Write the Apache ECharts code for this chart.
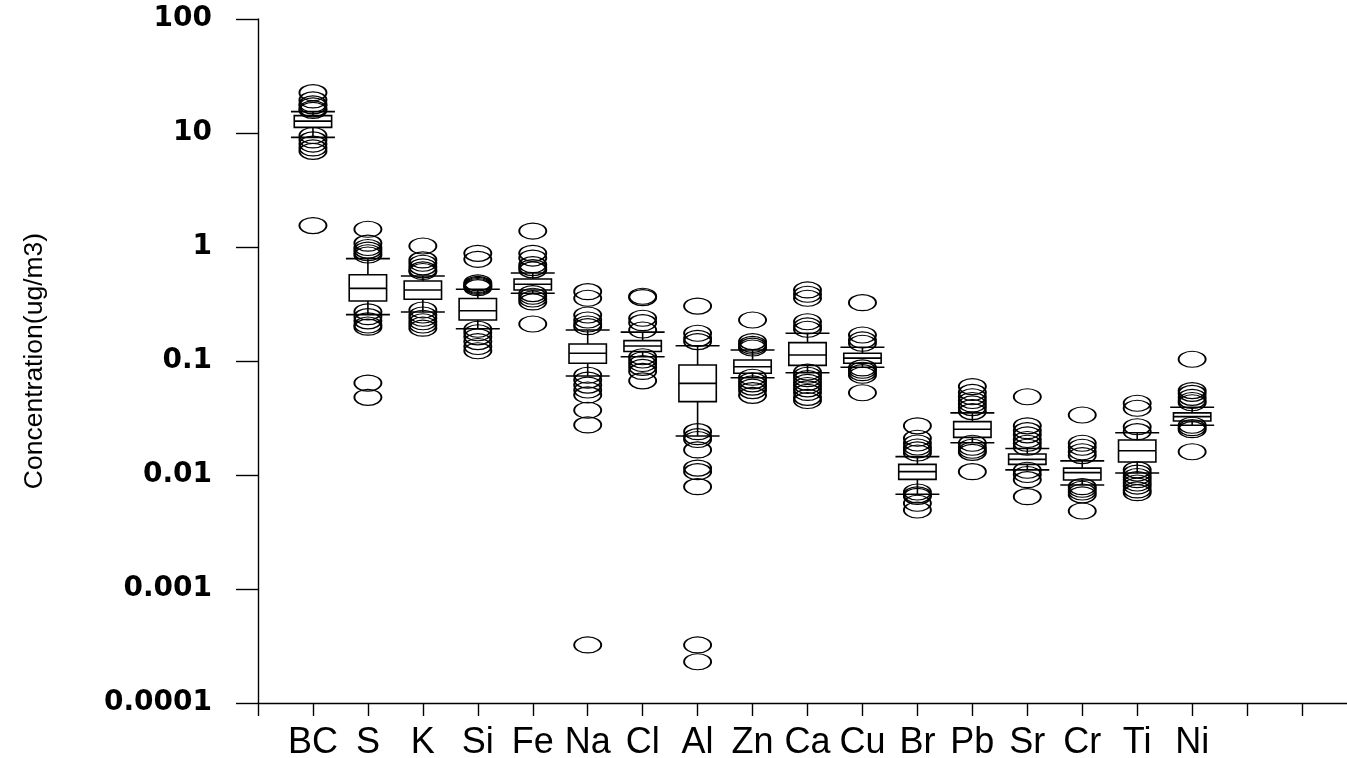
<!DOCTYPE html>
<html>
<head>
<meta charset="utf-8">
<script src="https://cdn.jsdelivr.net/npm/echarts@6/dist/echarts.min.js"></script>
<style>
html,body{margin:0;padding:0;background:#fff;}
#chart{width:1347px;height:758px;}
</style>
</head>
<body>
<div id="chart"></div>
<script>
// ---- data ----
const categories = ['BC','S','K','Si','Fe','Na','Cl','Al','Zn','Ca','Cu','Br','Pb','Sr','Cr','Ti','Ni'];
const yTickLabels = ['0.0001','0.001','0.01','0.1','1','10','100'];
const yAxisTitle = 'Concentration(ug/m3)';

const p10    = [9.16, 0.255, 0.269, 0.192, 0.393, 0.0738, 0.109, 0.022, 0.0714, 0.0789, 0.0881, 0.00677, 0.0192, 0.0111, 0.00817, 0.0104, 0.0273];
const q1     = [11.2, 0.336, 0.348, 0.229, 0.420, 0.0955, 0.121, 0.044, 0.078, 0.0916, 0.0955, 0.00916, 0.0214, 0.0124, 0.00904, 0.0130, 0.0298];
const median = [12.7, 0.434, 0.420, 0.276, 0.471, 0.117, 0.1355, 0.0637, 0.089, 0.113, 0.106, 0.0107, 0.0252, 0.0137, 0.0105, 0.0163, 0.0325];
const q3     = [14.2, 0.571, 0.503, 0.353, 0.524, 0.141, 0.151, 0.0922, 0.102, 0.145, 0.117, 0.0124, 0.0294, 0.0153, 0.0115, 0.0203, 0.0351];
const p90    = [15.4, 0.79, 0.557, 0.426, 0.592, 0.187, 0.179, 0.136, 0.125, 0.175, 0.132, 0.0145, 0.0351, 0.0171, 0.0133, 0.0235, 0.0393];

const outliers = [
  [22.6, 19.5, 18.0, 17.3, 16.3, 15.8, 9.5, 8.7, 8.0, 7.4, 6.9, 1.54],
  [1.43, 1.08, 0.99, 0.94, 0.89, 0.85, 0.27, 0.245, 0.225, 0.207, 0.198, 0.064, 0.048],
  [1.02, 0.77, 0.72, 0.67, 0.63, 0.61, 0.28, 0.253, 0.237, 0.221, 0.207, 0.194],
  [0.88, 0.78, 0.485, 0.47, 0.46, 0.45, 0.44, 0.19, 0.177, 0.163, 0.148, 0.134, 0.123],
  [1.38, 0.88, 0.80, 0.70, 0.66, 0.63, 0.39, 0.37, 0.35, 0.33, 0.211],
  [0.406, 0.355, 0.253, 0.229, 0.211, 0.2, 0.075, 0.068, 0.0615, 0.0557, 0.0504, 0.037, 0.0275, 0.000323],
  [0.37, 0.36, 0.237, 0.217, 0.187, 0.109, 0.102, 0.095, 0.088, 0.081, 0.067],
  [0.303, 0.175, 0.158, 0.148, 0.024, 0.0217, 0.0205, 0.0166, 0.0115, 0.0107, 0.0079, 0.000323, 0.00023],
  [0.229, 0.148, 0.14, 0.135, 0.13, 0.072, 0.067, 0.063, 0.059, 0.055, 0.05],
  [0.42, 0.385, 0.355, 0.221, 0.203, 0.19, 0.08, 0.075, 0.07, 0.065, 0.061, 0.057, 0.053, 0.048, 0.045],
  [0.325, 0.169, 0.153, 0.143, 0.087, 0.083, 0.079, 0.075, 0.0527],
  [0.027, 0.021, 0.0191, 0.0176, 0.0166, 0.0156, 0.0071, 0.0067, 0.0065, 0.00565, 0.00493],
  [0.0596, 0.053, 0.0486, 0.045, 0.042, 0.039, 0.036, 0.019, 0.0175, 0.0165, 0.0158, 0.0107],
  [0.0486, 0.027, 0.0245, 0.0225, 0.0205, 0.019, 0.0175, 0.011, 0.0101, 0.0091, 0.00646],
  [0.0336, 0.019, 0.0175, 0.016, 0.0148, 0.0079, 0.0075, 0.0071, 0.0067, 0.00483],
  [0.0426, 0.0385, 0.0265, 0.024, 0.0111, 0.0104, 0.0097, 0.0091, 0.0085, 0.008, 0.0074, 0.007],
  [0.1035, 0.055, 0.052, 0.048, 0.045, 0.043, 0.0273, 0.026, 0.025, 0.016]
];

// ---- build series data ----
const boxData = categories.map((c, i) => [i + 1, p10[i], q1[i], median[i], q3[i], p90[i]]);
const pointData = [];
outliers.forEach((arr, i) => arr.forEach(v => pointData.push([i + 1, v])));

const chart = echarts.init(document.getElementById('chart'), null, {renderer: 'canvas'});
const stroke = {stroke: '#000', lineWidth: 1.6};
const ellipse = 'path://M0,8 A13.5,8 0 1,0 27,8 A13.5,8 0 1,0 0,8 Z';

chart.setOption({
  animation: false,
  backgroundColor: '#fff',
  grid: {left: 258, right: -10, top: 19, bottom: 55, outerBoundsMode: 'none'},
  xAxis: {
    type: 'value', min: 0, max: 20, interval: 1,
    splitLine: {show: false},
    axisLine: {lineStyle: {color: '#000', width: 1.4}},
    axisTick: {show: true, inside: false, length: 13, lineStyle: {color: '#000', width: 1.4}},
    axisLabel: {
      margin: 22, color: '#000', fontFamily: 'Liberation Sans, Arial, sans-serif', fontSize: 36,
      formatter: v => (Number.isInteger(v) && v >= 1 && v <= categories.length) ? categories[v - 1] : ''
    }
  },
  yAxis: {
    type: 'log', logBase: 10, min: 0.0001, max: 100,
    splitLine: {show: false}, minorTick: {show: false},
    axisLine: {lineStyle: {color: '#000', width: 1.4}},
    axisTick: {show: true, inside: false, length: 22, lineStyle: {color: '#000', width: 1.4}},
    axisLabel: {
      margin: 46, color: '#000', fontFamily: 'DejaVu Sans, sans-serif', fontWeight: 'bold', fontSize: 28,
      formatter: v => yTickLabels[Math.round(Math.log10(v)) + 4]
    },
    name: yAxisTitle, nameLocation: 'middle', nameRotate: 90, nameGap: 210,
    nameTextStyle: {color: '#000', fontFamily: 'Liberation Sans, Arial, sans-serif', fontSize: 26.5}
  },
  series: [
    {
      type: 'custom', silent: true, data: boxData, z: 2,
      renderItem: (params, api) => {
        const x = api.value(0);
        const pa = api.coord([x, api.value(3)]);
        const unit = api.coord([x + 1, api.value(3)])[0] - pa[0];
        const cx = pa[0];
        const bw = unit * 0.34, cw = unit * 0.40;
        const yLo = api.coord([x, api.value(1)])[1];
        const yQ1 = api.coord([x, api.value(2)])[1];
        const yMd = api.coord([x, api.value(3)])[1];
        const yQ3 = api.coord([x, api.value(4)])[1];
        const yHi = api.coord([x, api.value(5)])[1];
        return {
          type: 'group',
          children: [
            {type: 'line', shape: {x1: cx, y1: yQ1, x2: cx, y2: yLo}, style: stroke},
            {type: 'line', shape: {x1: cx, y1: yQ3, x2: cx, y2: yHi}, style: stroke},
            {type: 'line', shape: {x1: cx - cw, y1: yLo, x2: cx + cw, y2: yLo}, style: stroke},
            {type: 'line', shape: {x1: cx - cw, y1: yHi, x2: cx + cw, y2: yHi}, style: stroke},
            {type: 'rect', shape: {x: cx - bw, y: yQ3, width: 2 * bw, height: yQ1 - yQ3}, style: {fill: '#fff', stroke: '#000', lineWidth: 1.6}},
            {type: 'line', shape: {x1: cx - bw, y1: yMd, x2: cx + bw, y2: yMd}, style: stroke}
          ]
        };
      }
    },
    {
      type: 'scatter', silent: true, data: pointData, z: 3,
      symbol: ellipse, symbolSize: [27, 16],
      itemStyle: {color: 'rgba(0,0,0,0)', borderColor: '#000', borderWidth: 1.5, opacity: 1}
    }
  ]
});
</script>
</body>
</html>
